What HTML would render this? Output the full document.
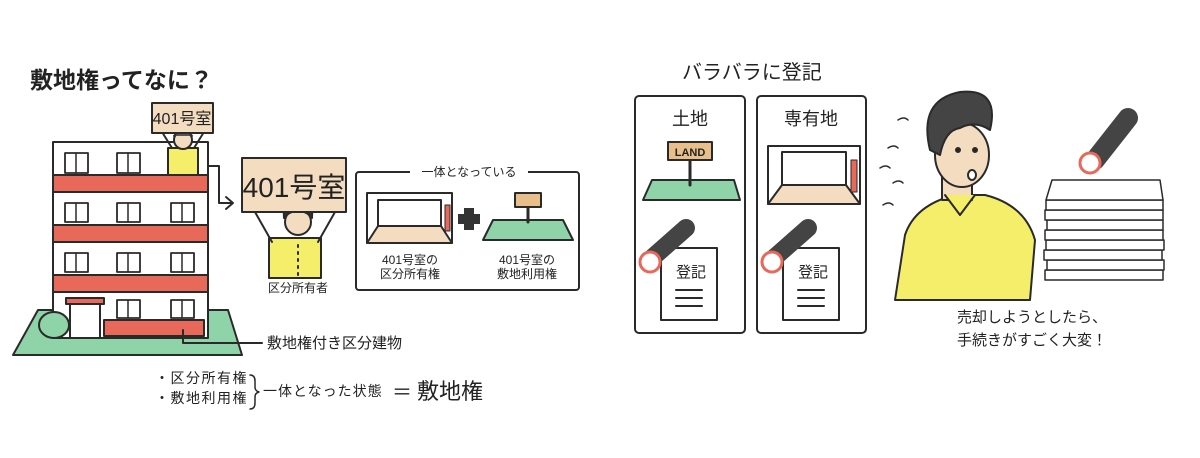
<!DOCTYPE html>
<html><head><meta charset="utf-8"><style>
html,body{margin:0;padding:0;background:#fff;}
svg{display:block;}
text{font-family:"Liberation Sans","Noto Sans CJK JP",sans-serif;fill:#222;}
</style></head><body>
<svg width="1200" height="458" viewBox="0 0 1200 458" xmlns="http://www.w3.org/2000/svg">
<g stroke="#2a2a2a" stroke-width="2" stroke-linejoin="round" stroke-linecap="round">
<text x="30" y="88" font-size="23" stroke="none" font-weight="bold">敷地権ってなに？</text>
<polygon points="38,310 228,310 242,355 13,355" fill="#8fd4a8"/>
<rect x="53" y="142" width="155" height="196" fill="#fff"/>
<rect x="53" y="175" width="155" height="17" fill="#e8685a"/>
<rect x="53" y="225" width="155" height="17" fill="#e8685a"/>
<rect x="53" y="275" width="155" height="17" fill="#e8685a"/>
<rect x="104" y="320" width="100" height="16" fill="#e8685a"/>
<g fill="#fff" stroke-width="1.8">
<rect x="65" y="153" width="23" height="20"/><rect x="117" y="153" width="23" height="20"/>
<rect x="65" y="203" width="23" height="19"/><rect x="117" y="203" width="23" height="19"/><rect x="171" y="203" width="23" height="19"/>
<rect x="65" y="253" width="23" height="19"/><rect x="117" y="253" width="23" height="19"/><rect x="171" y="253" width="23" height="19"/>
<rect x="117" y="300" width="23" height="18"/><rect x="171" y="300" width="23" height="18"/>
</g>
<g stroke-width="1.5"><line x1="76" y1="153" x2="76" y2="173"/><line x1="128" y1="153" x2="128" y2="173"/>
<line x1="76" y1="203" x2="76" y2="222"/><line x1="128" y1="203" x2="128" y2="222"/><line x1="182" y1="203" x2="182" y2="222"/>
<line x1="76" y1="253" x2="76" y2="272"/><line x1="128" y1="253" x2="128" y2="272"/><line x1="182" y1="253" x2="182" y2="272"/>
<line x1="128" y1="300" x2="128" y2="318"/><line x1="182" y1="300" x2="182" y2="318"/></g>
<rect x="66" y="298" width="38" height="6" fill="#e8685a"/>
<rect x="70" y="304" width="30" height="34" fill="#fff"/>
<ellipse cx="54" cy="325" rx="15" ry="13" fill="#8fd4a8"/>
<rect x="168" y="148" width="30" height="27" fill="#f5ee6a"/>
<circle cx="183" cy="140" r="9" fill="#f3dcc0"/>
<path d="M174,136 q9,-12 18,0" fill="#555"/>
<line x1="172" y1="148" x2="162" y2="132"/><line x1="194" y1="148" x2="204" y2="132"/>
<rect x="152" y="103" width="61" height="30" fill="#f3dcc0"/>
<text x="182" y="124" font-size="16" text-anchor="middle" stroke="none">401号室</text>
<polyline points="208,166 219,166 219,203 231,203" fill="none"/>
<polyline points="226,197 233,203 226,209" fill="none"/>
<rect x="269" y="238" width="52" height="40" fill="#f5ee6a"/>
<line x1="272" y1="242" x2="255" y2="212"/><line x1="318" y1="242" x2="335" y2="212"/>
<circle cx="298" cy="222" r="13" fill="#f3dcc0"/>
<path d="M284,218 q-2,-18 14,-17 q16,-1 14,17 q-6,-8 -14,-6 q-8,-2 -14,6z" fill="#333"/>
<line x1="298" y1="245" x2="298" y2="275" stroke-dasharray="2 5"/>
<rect x="242" y="158" width="104" height="54" fill="#f3dcc0"/>
<text x="294" y="197" font-size="28" text-anchor="middle" stroke="none">401号室</text>
<text x="298" y="292" font-size="12" text-anchor="middle" stroke="none">区分所有者</text>
<rect x="356" y="172" width="223" height="118" rx="3" fill="none"/>
<rect x="410" y="164" width="118" height="14" fill="#fff" stroke="none"/>
<text x="469" y="176" font-size="12" text-anchor="middle" stroke="none">一体となっている</text>
<rect x="367" y="193" width="85" height="50" fill="#fff"/>
<polygon points="367,243 378,226 441,226 452,243" fill="#f3dcc0"/>
<rect x="378" y="200" width="63" height="26" fill="#fff"/>
<rect x="445" y="205" width="5" height="26" fill="#e8685a" stroke-width="1"/>
<rect x="464" y="208" width="10" height="22" fill="#333" stroke="none"/>
<rect x="458" y="214" width="22" height="10" fill="#333" stroke="none"/>
<polygon points="493,220 563,220 573,240 483,240" fill="#8fd4a8"/>
<line x1="528" y1="206" x2="528" y2="222" stroke-width="3"/>
<rect x="515" y="193" width="26" height="14" fill="#e8bf8a"/>
<text x="410" y="264" font-size="12" text-anchor="middle" stroke="none">401号室の</text>
<text x="410" y="278" font-size="12" text-anchor="middle" stroke="none">区分所有権</text>
<text x="527" y="264" font-size="12" text-anchor="middle" stroke="none">401号室の</text>
<text x="527" y="278" font-size="12" text-anchor="middle" stroke="none">敷地利用権</text>
<polyline points="183,330 183,343 262,343" fill="none"/>
<text x="267" y="348" font-size="15" stroke="none">敷地権付き区分建物</text>
<text x="155" y="383" font-size="14" stroke="none" letter-spacing="1.5">・区分所有権</text>
<text x="155" y="403" font-size="14" stroke="none" letter-spacing="1.5">・敷地利用権</text>
<path d="M250,375 q5,0 5,6 v6 q0,4 4,5 q-4,1 -4,5 v6 q0,6 -5,6" fill="none" stroke-width="1.5"/>
<text x="263" y="396" font-size="14" stroke="none" letter-spacing="1">一体となった状態</text>
<text x="392" y="399" font-size="20" stroke="none">＝</text>
<text x="417" y="399" font-size="22" stroke="none">敷地権</text>

<text x="682" y="79" font-size="20" stroke="none">バラバラに登記</text>
<rect x="635" y="96" width="110" height="237" rx="4" fill="none"/>
<rect x="757" y="96" width="109" height="237" rx="4" fill="none"/>
<text x="690" y="125" font-size="18" text-anchor="middle" stroke="none">土地</text>
<text x="811" y="125" font-size="18" text-anchor="middle" stroke="none">専有地</text>
<polygon points="652,180 734,180 740,200 643,200" fill="#8fd4a8"/>
<line x1="690" y1="160" x2="690" y2="185" stroke-width="3"/>
<rect x="668" y="142" width="44" height="18" fill="#e8bf8a"/>
<text x="690" y="156" font-size="11" text-anchor="middle" stroke="none" font-weight="bold">LAND</text>
<rect x="768" y="146" width="92" height="58" fill="#fff"/>
<polygon points="768,204 782,185 846,185 860,204" fill="#f3dcc0"/>
<rect x="782" y="152" width="64" height="33" fill="#fff"/>
<rect x="851" y="160" width="6" height="32" fill="#e8685a" stroke-width="1"/>
<g>
<rect x="661" y="248" width="56" height="72" fill="#fff"/>
<text x="676" y="277" font-size="15" stroke="none">登記</text>
<line x1="676" y1="290" x2="702" y2="290"/><line x1="676" y1="298" x2="702" y2="298"/><line x1="676" y1="306" x2="702" y2="306"/>
<line x1="652" y1="258" x2="686" y2="228" stroke-width="18" stroke="#444"/>
<circle cx="650" cy="262" r="10" fill="#fff" stroke="#e8685a" stroke-width="3"/>
</g>
<g transform="translate(122,0)">
<rect x="661" y="248" width="56" height="72" fill="#fff"/>
<text x="676" y="277" font-size="15" stroke="none">登記</text>
<line x1="676" y1="290" x2="702" y2="290"/><line x1="676" y1="298" x2="702" y2="298"/><line x1="676" y1="306" x2="702" y2="306"/>
<line x1="652" y1="258" x2="686" y2="228" stroke-width="18" stroke="#444"/>
<circle cx="650" cy="262" r="10" fill="#fff" stroke="#e8685a" stroke-width="3"/>
</g>
<path d="M895,300 L905,235 Q915,205 955,195 L985,195 Q1025,205 1035,240 L1030,300 Z" fill="#f5ee6a"/>
<rect x="942" y="170" width="30" height="30" fill="#f3dcc0"/>
<ellipse cx="962" cy="155" rx="27" ry="32" fill="#f3dcc0"/>
<path d="M930,150 Q918,100 960,92 Q1000,88 990,130 Q975,120 960,128 Q945,130 940,155 Z" fill="#444"/>
<circle cx="958" cy="150" r="2" fill="#222"/><circle cx="975" cy="150" r="2" fill="#222"/>
<ellipse cx="972" cy="175" rx="4" ry="5" fill="#fff"/>
<path d="M945,195 L960,215 L975,195" fill="#f5ee6a"/>
<g fill="none" stroke-width="1.5"><path d="M888,148 q6,-4 10,0"/><path d="M880,168 q6,-4 10,0"/><path d="M893,183 q6,-4 10,0"/><path d="M883,205 q6,-4 10,0"/><path d="M898,120 q6,-4 10,0"/></g>
<text x="957" y="322" font-size="15" stroke="none">売却しようとしたら、</text>
<text x="957" y="345" font-size="15" stroke="none">手続きがすごく大変！</text>
<g fill="#fff" stroke-width="1.5">
<rect x="1045" y="270" width="118" height="10"/><rect x="1047" y="260" width="117" height="10"/><rect x="1044" y="250" width="118" height="10"/>
<rect x="1046" y="240" width="118" height="10"/><rect x="1045" y="230" width="118" height="10"/><rect x="1047" y="220" width="116" height="10"/>
<rect x="1045" y="210" width="118" height="10"/><rect x="1046" y="200" width="117" height="10"/>
<polygon points="1052,180 1160,180 1163,200 1046,200"/>
</g>
<line x1="1095" y1="160" x2="1128" y2="118" stroke-width="20" stroke="#444"/>
<circle cx="1090" cy="163" r="10" fill="#fff" stroke="#e8685a" stroke-width="3"/>
</g>
</svg>
</body></html>
